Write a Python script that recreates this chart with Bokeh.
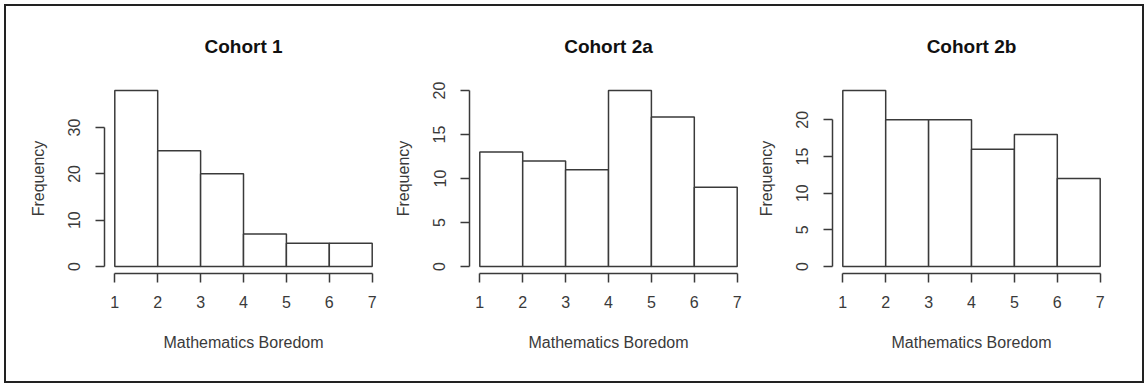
from bokeh.plotting import figure
from bokeh.layouts import row
from bokeh.models import Range1d, FixedTicker
from bokeh.embed import file_html
from bokeh.resources import INLINE

# ---- data ----
titles = ["Cohort 1", "Cohort 2a", "Cohort 2b"]
bin_edges = [1, 2, 3, 4, 5, 6, 7]
cohort1_counts = [38, 25, 20, 7, 5, 5]
cohort2a_counts = [13, 12, 11, 20, 17, 9]
cohort2b_counts = [24, 20, 20, 16, 18, 12]
y_ticks_1 = [0, 10, 20, 30]
y_ticks_2a = [0, 5, 10, 15, 20]
y_ticks_2b = [0, 5, 10, 15, 20]
x_ticks = [1, 2, 3, 4, 5, 6, 7]
x_label = "Mathematics Boredom"
y_label = "Frequency"

FONT = "Liberation Sans"
LINE = "#3a3a3a"
TEXT = "#3a3a3a"


def make_panel(title, counts, yticks, border_left, border_right):
    ymax = max(counts)
    xmin, xmax = bin_edges[0], bin_edges[-1]
    xpad = 0.04 * (xmax - xmin)
    ypad = 0.04 * ymax
    p = figure(
        output_backend="svg", toolbar_location=None,
        frame_width=278, frame_height=190,
        min_border_left=border_left, min_border_right=border_right,
        min_border_top=70, min_border_bottom=108,
        x_range=Range1d(xmin - xpad, xmax + xpad),
        y_range=Range1d(-ypad, ymax + ypad),
        title=title,
    )
    p.quad(left=bin_edges[:-1], right=bin_edges[1:], bottom=0, top=counts,
           fill_color="white", line_color=LINE, line_width=1.5)
    p.grid.visible = False
    p.outline_line_color = None
    p.background_fill_color = "white"
    p.border_fill_color = "white"

    p.title.align = "center"
    p.title.text_font = FONT
    p.title.text_font_size = "19px"
    p.title.text_font_style = "bold"
    p.title.text_color = "#111111"
    p.title.standoff = 54

    for ax in (p.xaxis[0], p.yaxis[0]):
        ax.axis_line_color = LINE
        ax.axis_line_width = 1.5
        ax.major_tick_line_color = LINE
        ax.major_tick_line_width = 1.5
        ax.major_tick_out = 9
        ax.major_tick_in = 0
        ax.minor_tick_line_color = None
        ax.major_label_text_font = FONT
        ax.major_label_text_font_size = "16px"
        ax.major_label_text_color = TEXT
        ax.axis_label_text_font = FONT
        ax.axis_label_text_font_size = "16px"
        ax.axis_label_text_font_style = "normal"
        ax.axis_label_text_color = TEXT

    xa = p.xaxis[0]
    xa.ticker = FixedTicker(ticks=x_ticks)
    xa.bounds = (xmin, xmax)
    xa.axis_label = x_label
    xa.major_label_standoff = 13
    xa.axis_label_standoff = 23

    ya = p.yaxis[0]
    ya.ticker = FixedTicker(ticks=yticks)
    ya.bounds = (yticks[0], yticks[-1])
    ya.axis_label = y_label
    ya.major_label_orientation = "vertical"
    ya.major_label_standoff = 15
    ya.axis_label_standoff = 19
    return p


p1 = make_panel(titles[0], cohort1_counts, y_ticks_1, 98, 1)
p2 = make_panel(titles[1], cohort2a_counts, y_ticks_2a, 86, 0)
p3 = make_panel(titles[2], cohort2b_counts, y_ticks_2b, 85, 32)

layout = row(p1, p2, p3, styles={"border": "2px solid #222222", "margin": "4px",
                                  "background-color": "white"})

open("out.html", "w").write(file_html(layout, INLINE))
